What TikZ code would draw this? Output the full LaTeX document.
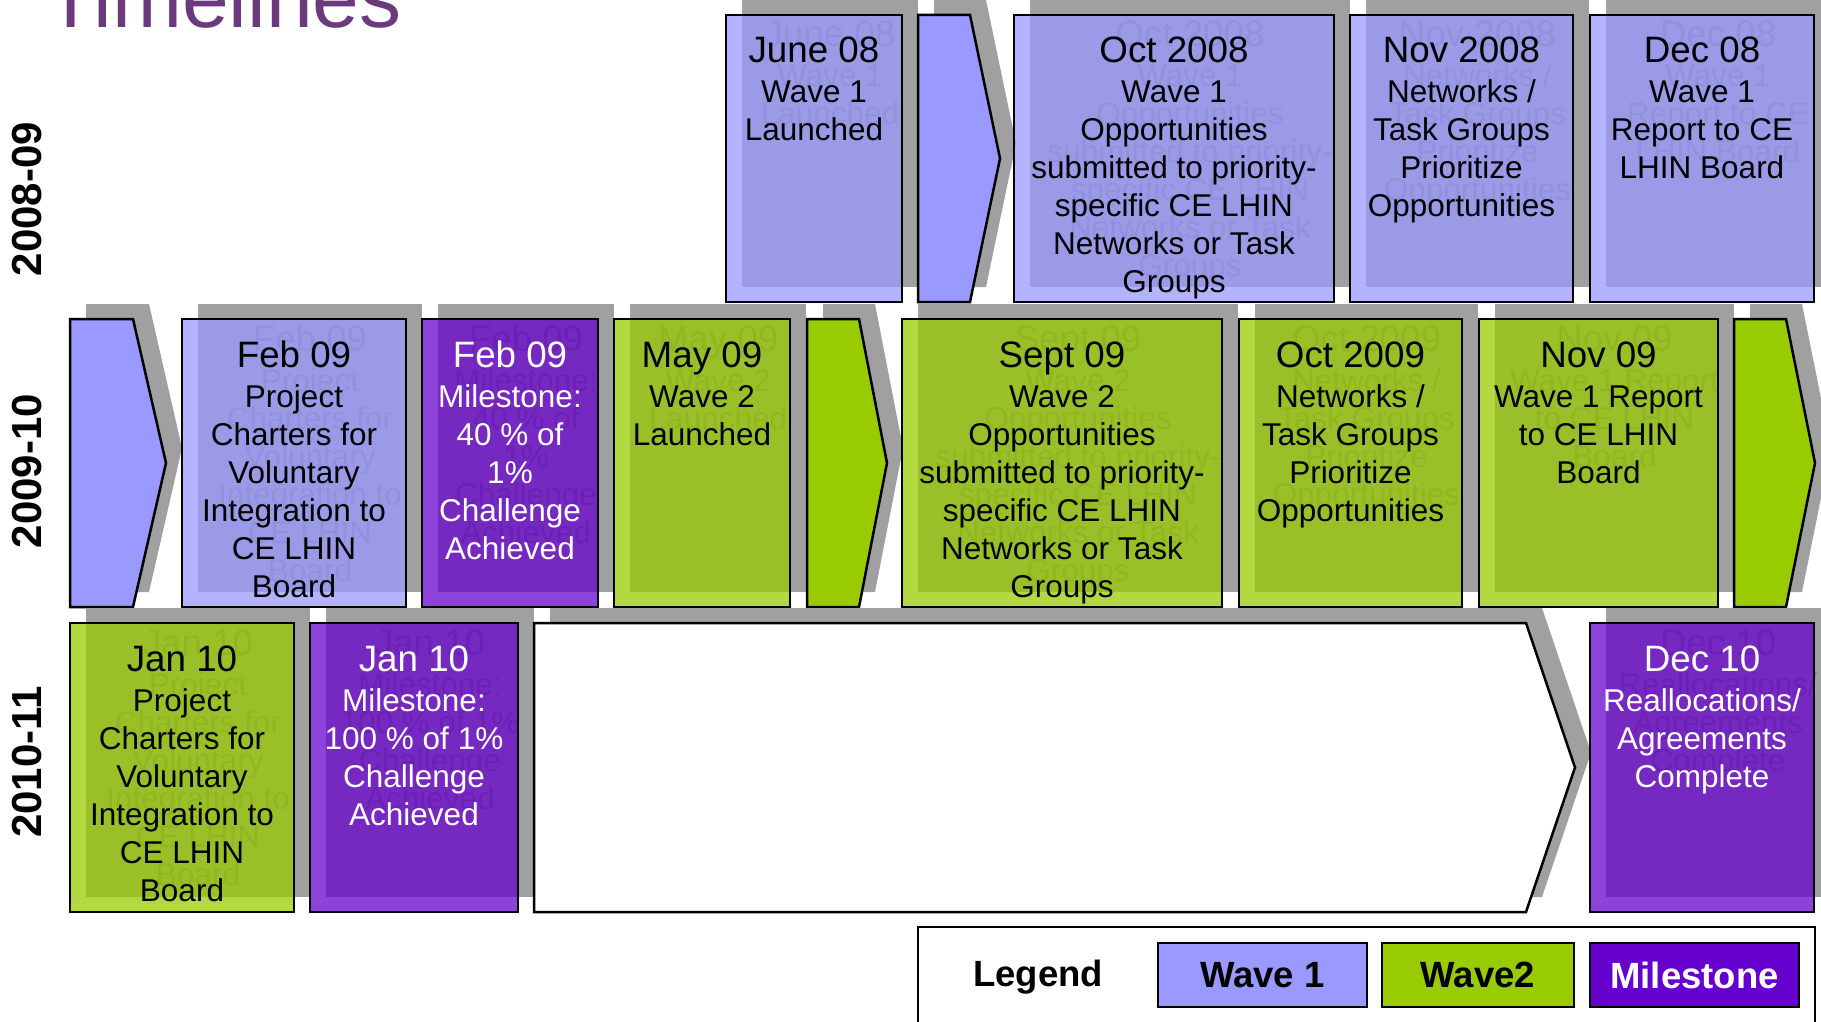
\documentclass[tikz,border=0pt]{standalone}
\usepackage{fontspec}
\setmainfont{Liberation Sans}
\usetikzlibrary{calc}
\definecolor{wone}{HTML}{9999FF}
\definecolor{wtwo}{HTML}{99CC00}
\definecolor{mile}{HTML}{6600CC}
\definecolor{shadowgray}{HTML}{A0A0A0}
\definecolor{ghostc}{HTML}{7C7C7C}
\definecolor{titlec}{HTML}{6B3A7C}
\tikzset{
  evbase/.style={draw=black, line width=2.5pt, inner sep=0pt, outer sep=0pt, fill opacity=0.74, draw opacity=1},
  wonebox/.style={evbase, fill=wone},
  wtwobox/.style={evbase, fill=wtwo},
  milebox/.style={evbase, fill=mile},
  wonetext/.style={text=black},
  wtwotext/.style={text=black},
  miletext/.style={text=white},
  evtext/.style={inner sep=0pt, font=\fontsize{31.5}{38}\selectfont},
  ghosttext/.style={evtext, text=ghostc},
  shadowfill/.style={fill=shadowgray, draw=none},
  chevline/.style={draw=black, line width=2.5pt},
  yearlabel/.style={rotate=90, inner sep=0pt, font=\fontsize{42}{48}\selectfont\bfseries},
  legbox/.style={draw=black, line width=2.5pt, inner sep=0pt, minimum height=64, font=\fontsize{36.5}{40}\selectfont\bfseries}
}
\newcommand{\evlines}[2]{\begin{tabular}[t]{@{}c@{}}{\fontsize{36.75}{38}\selectfont #1}\\[2pt] #2\end{tabular}}
% name, x1, y1, x2, y2, kind, first line, other lines
\newcommand{\EvBox}[8]{%
  \pgfmathsetmacro{\evcx}{(#2+#4)/2}%
  \pgfmathsetmacro{\evcy}{(#3+#5)/2}%
  \pgfmathsetmacro{\evw}{#4-#2}%
  \pgfmathsetmacro{\evh}{#5-#3}%
  \pgfmathsetmacro{\evty}{#3+48}%
  \path[shadowfill] (#2+16,#3-15) rectangle (#4+16,#5-15);
  \node[ghosttext, anchor=base] (#1g) at (\evcx+16,\evty-16) {\evlines{#7}{#8}};
  \node[#6box, minimum width=\evw, minimum height=\evh] (#1) at (\evcx,\evcy) {};
  \node[evtext, #6text, anchor=base] (#1t) at (\evcx,\evty) {\evlines{#7}{#8}};
}
% x left, x corner, x tip, y top, y bottom, fill
\newcommand{\Chev}[6]{%
  \pgfmathsetmacro{\chm}{(#4+#5)/2}%
  \path[shadowfill, shift={(16,-15)}] (#1,#4) -- (#2,#4) -- (#3,\chm) -- (#2,#5) -- (#1,#5) -- cycle;
  \draw[chevline, fill=#6] (#1,#4) -- (#2,#4) -- (#3,\chm) -- (#2,#5) -- (#1,#5) -- cycle;
}
\begin{document}
\begin{tikzpicture}[x=1pt, y=-1pt]
\useasboundingbox (0,0) rectangle (1821,1022);
\clip (0,0) rectangle (1821,1022);
\fill[white] (0,0) rectangle (1821,1022);

\node[anchor=base west, inner sep=0pt, text=titlec, font=\fontsize{84}{95}\selectfont] (title) at (45,28) {Timelines};

\node[yearlabel] (y1) at (27,199) {2008-09};
\node[yearlabel] (y2) at (27,471) {2009-10};
\node[yearlabel] (y3) at (27,762) {2010-11};

% Row 1
\EvBox{jun08}{726}{15}{902}{302}{wone}{June 08}{Wave 1\\Launched}
\Chev{918}{970}{1000}{15}{302}{wone}
\EvBox{oct08}{1014}{15}{1334}{302}{wone}{Oct 2008}{Wave 1\\Opportunities\\submitted to priority-\\specific CE LHIN\\Networks or Task\\Groups}
\EvBox{nov08}{1350}{15}{1573}{302}{wone}{Nov 2008}{Networks /\\Task Groups\\Prioritize\\Opportunities}
\EvBox{dec08}{1590}{15}{1814}{302}{wone}{Dec 08}{Wave 1\\Report to CE\\LHIN Board}

% Row 2
\Chev{70}{133}{166}{319}{607}{wone}
\EvBox{feb09a}{182}{319}{406}{607}{wone}{Feb 09}{Project\\Charters for\\Voluntary\\Integration to\\CE LHIN\\Board}
\EvBox{feb09b}{422}{319}{598}{607}{mile}{Feb 09}{Milestone:\\40 \% of\\1\%\\Challenge\\Achieved}
\EvBox{may09}{614}{319}{790}{607}{wtwo}{May 09}{Wave 2\\Launched}
\Chev{807}{859}{887}{319}{607}{wtwo}
\EvBox{sep09}{902}{319}{1222}{607}{wtwo}{Sept 09}{Wave 2\\Opportunities\\submitted to priority-\\specific CE LHIN\\Networks or Task\\Groups}
\EvBox{oct09}{1239}{319}{1462}{607}{wtwo}{Oct 2009}{Networks /\\Task Groups\\Prioritize\\Opportunities}
\EvBox{nov09}{1479}{319}{1718}{607}{wtwo}{Nov 09}{Wave 1 Report\\to CE LHIN\\Board}
\Chev{1734}{1786}{1815}{319}{607}{wtwo}

% Row 3
\EvBox{jan10a}{70}{623}{294}{912}{wtwo}{Jan 10}{Project\\Charters for\\Voluntary\\Integration to\\CE LHIN\\Board}
\EvBox{jan10b}{310}{623}{518}{912}{mile}{Jan 10}{Milestone:\\100 \% of 1\%\\Challenge\\Achieved}
\Chev{534}{1526}{1575}{623}{912}{white}
\EvBox{dec10}{1590}{623}{1814}{912}{mile}{Dec 10}{Reallocations/\\Agreements\\Complete}

% Legend
\draw[line width=2.5pt] (918,927) rectangle (1815,1060);
\node[inner sep=0pt, font=\fontsize{36.5}{40}\selectfont\bfseries] (legend) at (1038,977) {Legend};
\node[legbox, fill=wone, minimum width=209] (lw1) at (1262.5,975) {Wave 1};
\node[legbox, fill=wtwo, minimum width=192] (lw2) at (1478,975) {Wave2};
\node[legbox, fill=mile, text=white, minimum width=209] (lm) at (1694.5,975) {Milestone};
\end{tikzpicture}
\end{document}
